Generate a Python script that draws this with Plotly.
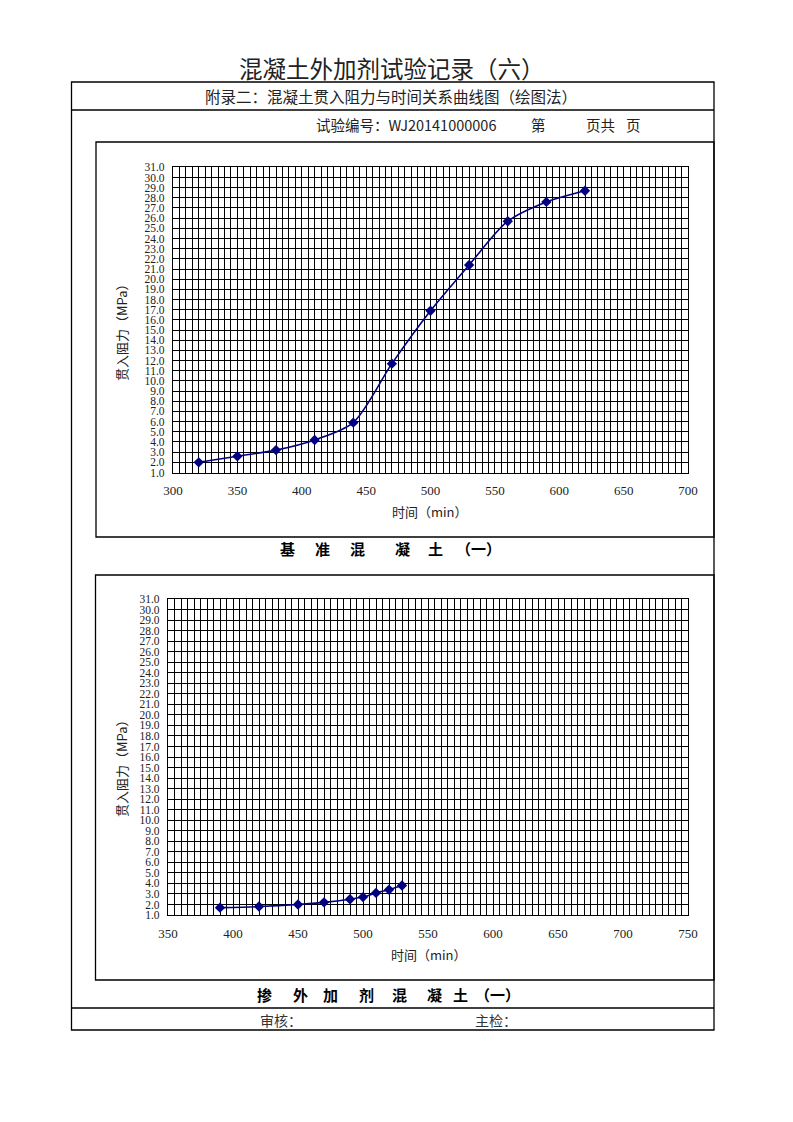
import plotly.graph_objects as go

# ---------------- data ----------------
time_ref = [320, 350, 380, 410, 440, 470, 500, 530, 560, 590, 620]
res_ref = [2.0, 2.6, 3.2, 4.2, 5.9, 11.7, 16.9, 21.4, 25.7, 27.6, 28.7]

time_adm = [390, 420, 450, 470, 490, 500, 510, 520, 530]
res_adm = [1.7, 1.8, 2.0, 2.2, 2.5, 2.7, 3.1, 3.4, 3.8]

x1_range = [300, 700]
x2_range = [350, 750]
y_range = [1, 31]

title_text = "混凝土外加剂试验记录（六）"
subtitle_text = "附录二：混凝土贯入阻力与时间关系曲线图（绘图法）"
code_text = "试验编号：WJ20141000006"
y_title = "贯入阻力（MPa）"
x_title = "时间（min）"

# ---------------- page geometry (body margin 8px) ----------------
W, H = 777, 1104
OFF = 8


def fx(p):
    return (p - OFF) / W


def fy(p):
    return 1 - (p - OFF) / H


NAVY = "#000080"
CJK = "Noto Sans CJK SC"
NUM = "Liberation Serif"

fig = go.Figure()

fig.add_trace(go.Scatter(
    x=time_ref, y=res_ref, mode="lines+markers",
    line=dict(color=NAVY, width=1.6, shape="spline", smoothing=0.8),
    marker=dict(symbol="diamond", size=8, color=NAVY),
    xaxis="x", yaxis="y", showlegend=False, hoverinfo="skip"))

fig.add_trace(go.Scatter(
    x=time_adm, y=res_adm, mode="lines+markers",
    line=dict(color=NAVY, width=1.6, shape="spline", smoothing=0.6),
    marker=dict(symbol="diamond", size=8, color=NAVY),
    xaxis="x2", yaxis="y2", showlegend=False, hoverinfo="skip"))

grid = dict(showgrid=True, gridcolor="black", gridwidth=1.2,
            showline=True, linecolor="black", linewidth=1.3, mirror=True,
            zeroline=False, ticks="", fixedrange=True, automargin=False)

xcommon = dict(grid, tickmode="linear", dtick=50,
               minor=dict(dtick=5, showgrid=True, gridcolor="black", gridwidth=1.2),
               tickfont=dict(family=NUM, size=13, color="#222"),
               ticklabelstandoff=6)
ycommon = dict(grid, tickmode="linear", tick0=1, dtick=1, tickformat=".1f",
               tickfont=dict(family=NUM, size=11.5, color="#222"),
               ticklabelstandoff=5)

fig.update_layout(
    template="none",
    width=W, height=H,
    margin=dict(l=0, r=0, t=0, b=0, pad=0, autoexpand=False),
    paper_bgcolor="white", plot_bgcolor="white",
    showlegend=False,
    xaxis=dict(xcommon, range=x1_range, tick0=x1_range[0],
               domain=[fx(173), fx(688)], anchor="y"),
    yaxis=dict(ycommon, range=y_range,
               domain=[fy(472.5), fy(167.3)], anchor="x"),
    xaxis2=dict(xcommon, range=x2_range, tick0=x2_range[0],
                domain=[fx(168), fx(688)], anchor="y2"),
    yaxis2=dict(ycommon, range=y_range,
                domain=[fy(915), fy(599)], anchor="x2"),
)

# ---------------- table lines ----------------
LW = 1.3


def rect(x0, y0, x1, y1):
    fig.add_shape(type="rect", xref="paper", yref="paper",
                  x0=fx(x0), x1=fx(x1), y0=fy(y1), y1=fy(y0),
                  line=dict(color="black", width=LW))


def hline(x0, x1, y):
    fig.add_shape(type="line", xref="paper", yref="paper",
                  x0=fx(x0), x1=fx(x1), y0=fy(y), y1=fy(y),
                  line=dict(color="black", width=LW))


rect(71.5, 82, 714, 1030)
hline(71.5, 714, 110)
rect(96, 142, 714, 537)
rect(95.5, 575, 714, 980)
hline(71.5, 714, 1008)

# ---------------- texts ----------------


def text(t, x, y, size, bold=False, color="#222", anchor="center", angle=0, family=CJK):
    fig.add_annotation(text=("<b>%s</b>" % t) if bold else t,
                       xref="paper", yref="paper", x=fx(x), y=fy(y),
                       xanchor=anchor, yanchor="middle", showarrow=False,
                       textangle=angle,
                       font=dict(family=family, size=size, color=color))


text(title_text, 391.5, 68, 23.5)
text(subtitle_text, 390.5, 96, 15.5)
text(code_text, 314, 124, 14.5, anchor="left")
text("第", 538, 124, 14.5)
text("页共", 600, 124, 14.5)
text("页", 633, 124, 14.5)

# chart 1 titles
text(y_title, 121, 330, 13, angle=-90)
text(x_title, 430.5, 511, 13)
# chart 2 titles
text(y_title, 121, 766, 13, angle=-90)
text(x_title, 429, 954, 13)

# row labels
for ch, cx in zip(["基", "准", "混", "凝", "土", "（一）"],
                  [287.5, 322.5, 357.5, 402.5, 435.5, 478]):
    text(ch, cx, 548, 15, bold=True, color="black")

for ch, cx in zip(["掺", "外", "加", "剂", "混", "凝", "土", "（一）"],
                  [264, 300, 330, 366, 400, 434, 460, 497]):
    text(ch, cx, 994, 15, bold=True, color="black")

text("审核：", 281, 1020, 14, color="#333")
text("主检：", 496, 1020, 14, color="#333")

fig.write_html("out.html")
